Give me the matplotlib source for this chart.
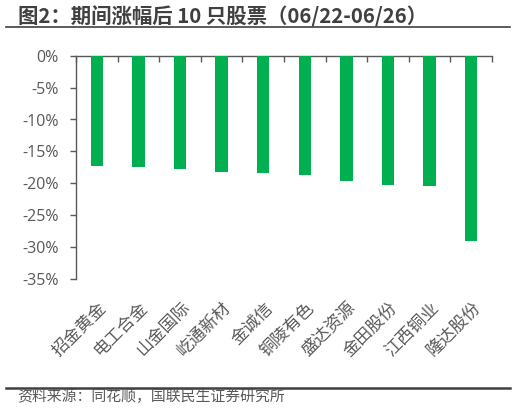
import matplotlib
matplotlib.use("Agg")
import matplotlib.pyplot as plt
from matplotlib.lines import Line2D
from matplotlib.ticker import FuncFormatter, FixedLocator

plt.rcParams['font.family'] = ['Noto Sans CJK SC', 'DejaVu Sans']

categories = ["招金黄金", "电工合金", "山金国际", "屹通新材", "金诚信",
              "铜陵有色", "盛达资源", "金田股份", "江西铜业", "隆达股份"]
values = [-17.3, -17.4, -17.8, -18.2, -18.4, -18.7, -19.6, -20.2, -20.5, -29.1]
yticks = [0, -5, -10, -15, -20, -25, -30, -35]
title = "图2：期间涨幅后 10 只股票（06/22-06/26）"
source = "资料来源：同花顺，国联民生证券研究所"

W, H = 516, 416
fig = plt.figure(figsize=(W / 100, H / 100), dpi=100)
ax = fig.add_axes([76 / W, 1 - 279 / H, (492 - 76) / W, (279 - 55.7) / H])

x = list(range(len(categories)))
ax.bar(x, values, width=0.3, color="#00B050", zorder=3)
ax.set_xlim(-0.5, len(categories) - 0.5)
ax.set_ylim(-35, 0)

ax.yaxis.set_major_locator(FixedLocator(yticks))
ax.yaxis.set_major_formatter(FuncFormatter(lambda v, p: f"{v:.0f}%"))
ax.tick_params(axis='y', labelsize=11.5, labelcolor="#595959", color="#595959",
               length=4.5, width=1, direction='out', pad=8)
for lab in ax.get_yticklabels():
    lab.set_family(['Open Sans', 'DejaVu Sans'])

# x ticks at boundaries on top line
ax.set_xticks([i - 0.5 for i in range(len(categories) + 1)])
ax.set_xticklabels([])
ax.xaxis.set_ticks_position('top')
ax.tick_params(axis='x', direction='in', length=4, width=1, color="#595959", top=True, bottom=False)

for s in ['right', 'bottom']:
    ax.spines[s].set_visible(False)
for s in ['left', 'top']:
    ax.spines[s].set_color("#595959")
    ax.spines[s].set_linewidth(1)

# category labels
for i, c in enumerate(categories):
    ax.annotate(c, xy=(i, -35), xycoords='data', xytext=(0.5, -14), textcoords='offset points',
                rotation=45, ha='right', va='top', fontsize=12.3, color="#595959",
                rotation_mode='anchor')

fig.text(18 / W, 1 - 17 / H, title, fontsize=14.7, fontweight='bold', color="#404040",
         ha='left', va='center')
fig.add_artist(Line2D([6 / W, 510 / W], [1 - 27 / H, 1 - 27 / H], color="#404040", lw=1.2))
fig.add_artist(Line2D([6 / W, 510 / W], [1 - 388 / H, 1 - 388 / H], color="#404040", lw=1.8))
fig.text(17 / W, 1 - 397 / H, source, fontsize=10.7, color="#595959", ha='left', va='center')

fig.savefig("out.png", dpi=100)
